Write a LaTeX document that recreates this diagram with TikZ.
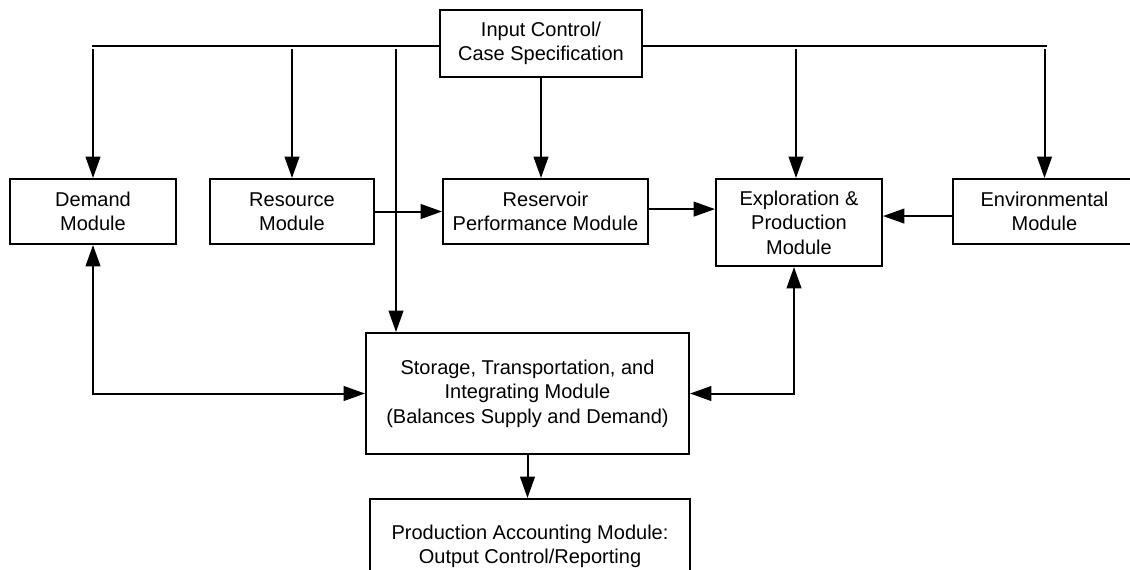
\documentclass[tikz,border=0pt]{standalone}
\usepackage{fontspec}
\setmainfont{Liberation Sans}
\usetikzlibrary{arrows.meta}
\tikzset{
  box/.style={draw, line width=1.5pt, inner sep=0pt, align=center,
    font=\fontsize{15}{18.4}\selectfont},
  conn/.style={line width=1.5pt},
  arr/.style={conn, -{Triangle[length=16pt,width=11pt]}},
  darr/.style={conn, {Triangle[length=16pt,width=11pt]}-{Triangle[length=16pt,width=11pt]}}
}
\begin{document}
\begin{tikzpicture}[x=0.75pt, y=-0.75pt]
\useasboundingbox (0,0) rectangle (1130,569);
\clip (0,0) rectangle (1130,569);
\fill[white] (0,0) rectangle (1130,569);

\node[box, minimum width=151.5pt, minimum height=50.25pt] (input) at (541,43.5) {Input Control/\\Case Specification};
\node[box, minimum width=124.5pt, minimum height=48.75pt] (demand) at (93,211.5) {Demand\\Module};
\node[box, minimum width=123pt, minimum height=48.75pt] (resource) at (292,211.5) {Resource\\Module};
\node[box, minimum width=153.75pt, minimum height=48.75pt] (reservoir) at (545.5,211.5) {Reservoir\\Performance Module};
\node[box, minimum width=124.5pt, minimum height=65.25pt] (explo) at (799,222.5) {Exploration \&\\Production\\Module};
\node[box, minimum width=137.25pt, minimum height=48.75pt] (env) at (1044.5,211.5) {Environmental\\Module};
\node[box, minimum width=242.25pt, minimum height=90.75pt] (storage) at (527.5,393.5) {Storage, Transportation, and\\Integrating Module\\(Balances Supply and Demand)};
\node[box, minimum width=240pt, minimum height=71.25pt] (prod) at (530,546.5) {Production Accounting Module:\\Output Control/Reporting};

% distribution line from the input box
\coordinate (hl) at (92,46);
\coordinate (hr) at (1047,46);
\draw[conn] (input.west |- hl) -- (hl);
\draw[conn] (input.east |- hr) -- (hr);

\coordinate (t0) at (0,49);
\coordinate (s0) at (396,49);
\coordinate (e0) at (796,49);
\draw[arr] (demand.north |- t0) -- (demand.north);
\draw[arr] (resource.north |- t0) -- (resource.north);
\draw[arr] (e0) -- (e0 |- explo.north);
\draw[arr] (env.north |- t0) -- (env.north);
\draw[arr] (s0) -- (s0 |- storage.north);
\draw[arr] (input.south) -- (input.south |- reservoir.north);

% horizontal flows
\draw[arr] (resource.east) -- (resource.east -| reservoir.west);
\draw[arr] ([yshift=1.8pt]reservoir.east) -- ([yshift=1.8pt]reservoir.east -| explo.west);
\draw[arr] ([yshift=-3.4pt]env.west) -- ([yshift=-3.4pt]env.west -| explo.east);

% two-way links with storage
\draw[darr] (demand.south) |- (storage.west);
\draw[darr] ([xshift=-3.75pt]explo.south) |- (storage.east);

% storage to production accounting
\draw[arr] (storage.south) -- (storage.south |- prod.north);
\end{tikzpicture}
\end{document}
